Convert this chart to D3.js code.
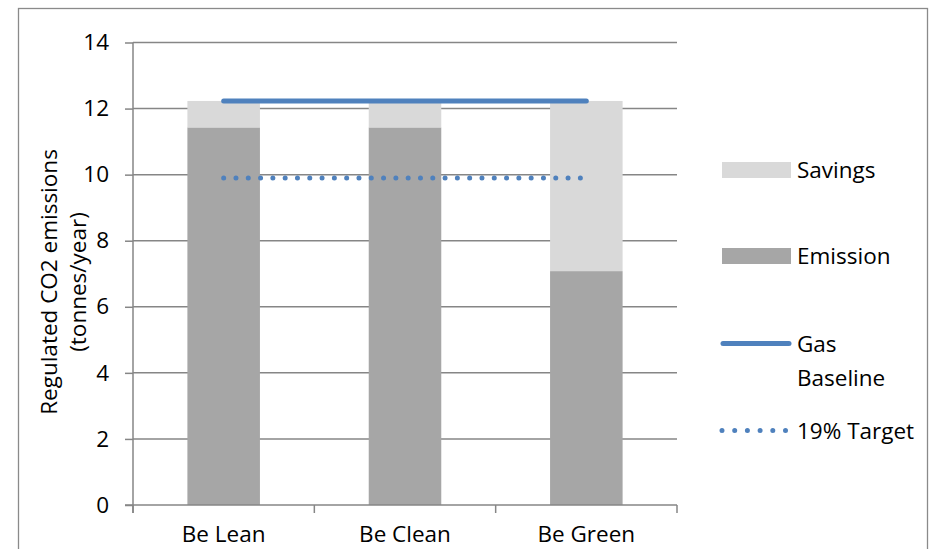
<!DOCTYPE html>
<html>
<head>
<meta charset="utf-8">
<script src="https://cdn.jsdelivr.net/npm/d3@7"></script>
<style>
  html, body { margin: 0; padding: 0; background: #fff; }
  svg { display: block; }
  text { font-family: "Open Sans", "Liberation Sans", sans-serif; fill: #000; }
</style>
</head>
<body>
<svg id="chart" width="930" height="549"></svg>
<script>
// Regulated CO2 emissions by energy hierarchy stage (tonnes/year)
const categories = ["Be Lean", "Be Clean", "Be Green"];
const emission = [11.43, 11.43, 7.08];
const savings = [0.8, 0.8, 5.15];
const gasBaseline = [12.23, 12.23, 12.23];
const target19 = [9.9, 9.9, 9.9];
const yTicks = [0, 2, 4, 6, 8, 10, 12, 14];

const legendItems = [
  { key: "savings", label: ["Savings"] },
  { key: "emission", label: ["Emission"] },
  { key: "baseline", label: ["Gas", "Baseline"] },
  { key: "target", label: ["19% Target"] }
];

const colors = {
  savings: "#d9d9d9",
  emission: "#a6a6a6",
  line: "#4f81bd",
  grid: "#868686",
  frame: "#8a8a8a"
};

const svg = d3.select("#chart");
const fontSize = 22.5;

// outer chart frame
svg.append("rect")
  .attr("x", 18.5).attr("y", 8.5)
  .attr("width", 909).attr("height", 600)
  .attr("fill", "none")
  .attr("stroke", colors.frame)
  .attr("stroke-width", 1.3);

const plot = { left: 133, right: 677, top: 42.5, bottom: 505 };

const x = d3.scaleBand()
  .domain(categories)
  .range([plot.left, plot.right])
  .paddingInner(0.6)
  .paddingOuter(0.3);

const y = d3.scaleLinear()
  .domain([0, 14])
  .range([plot.bottom, plot.top]);

// horizontal gridlines
svg.append("g")
  .selectAll("line")
  .data(yTicks.filter(d => d > 0))
  .join("line")
  .attr("x1", plot.left).attr("x2", plot.right)
  .attr("y1", d => y(d)).attr("y2", d => y(d))
  .attr("stroke", colors.grid)
  .attr("stroke-width", 1.5);

// stacked bars
const stackData = categories.map((c, i) => ({ cat: c, emission: emission[i], savings: savings[i] }));
const stacked = d3.stack().keys(["emission", "savings"])(stackData);

svg.append("g")
  .selectAll("g")
  .data(stacked)
  .join("g")
  .attr("fill", d => colors[d.key])
  .selectAll("rect")
  .data(d => d)
  .join("rect")
  .attr("x", d => x(d.data.cat))
  .attr("width", x.bandwidth())
  .attr("y", d => y(d[1]))
  .attr("height", d => y(d[0]) - y(d[1]));

// y axis
const yAxis = d3.axisLeft(y)
  .tickValues(yTicks)
  .tickSize(8)
  .tickPadding(16)
  .tickFormat(d3.format("d"));

const yG = svg.append("g")
  .attr("transform", `translate(${plot.left},0)`)
  .call(yAxis);
yG.select(".domain").attr("stroke", colors.grid).attr("stroke-width", 1.5)
  .attr("d", `M0,${plot.bottom + 8}V${plot.top}`);
yG.selectAll(".tick line").attr("stroke", colors.grid).attr("stroke-width", 1.5);
yG.selectAll(".tick text")
  .attr("font-size", fontSize)
  .style("font-family", "'Open Sans', sans-serif")
  .attr("fill", "#000");

// x axis with boundary ticks between categories
const bounds = [plot.left, plot.left + x.step(), plot.left + 2 * x.step(), plot.right];
const xG = svg.append("g");
xG.append("line")
  .attr("x1", plot.left - 8).attr("x2", plot.right)
  .attr("y1", y(0)).attr("y2", y(0))
  .attr("stroke", colors.grid).attr("stroke-width", 1.5);
xG.selectAll("line.tk")
  .data(bounds)
  .join("line")
  .attr("class", "tk")
  .attr("x1", d => d).attr("x2", d => d)
  .attr("y1", y(0)).attr("y2", y(0) + 8)
  .attr("stroke", colors.grid).attr("stroke-width", 1.5);
xG.selectAll("text")
  .data(categories)
  .join("text")
  .attr("x", d => x(d) + x.bandwidth() / 2)
  .attr("y", 542)
  .attr("text-anchor", "middle")
  .attr("font-size", fontSize)
  .text(d => d);

// gas baseline and 19% target lines
const lineGen = d3.line()
  .x((d, i) => x(categories[i]) + x.bandwidth() / 2)
  .y(d => y(d));

svg.append("path")
  .datum(gasBaseline)
  .attr("d", lineGen)
  .attr("fill", "none")
  .attr("stroke", colors.line)
  .attr("stroke-width", 5)
  .attr("stroke-linecap", "round");

svg.append("path")
  .datum(target19)
  .attr("d", lineGen)
  .attr("fill", "none")
  .attr("stroke", colors.line)
  .attr("stroke-width", 5)
  .attr("stroke-linecap", "round")
  .attr("stroke-dasharray", "0 12.3");

// y axis title
svg.append("text")
  .attr("transform", "translate(57,282) rotate(-90)")
  .attr("text-anchor", "middle")
  .attr("font-size", fontSize)
  .selectAll("tspan")
  .data(["Regulated CO2 emissions", "(tonnes/year)"])
  .join("tspan")
  .attr("x", 0)
  .attr("dy", (d, i) => i === 0 ? 0 : 29)
  .text(d => d);

// legend
const legendY = { savings: 170, emission: 256, baseline: 343.5, target: 430.5 };
const lg = svg.append("g");
legendItems.forEach(item => {
  const cy = legendY[item.key];
  if (item.key === "savings" || item.key === "emission") {
    lg.append("rect")
      .attr("x", 722).attr("y", cy - 8)
      .attr("width", 69).attr("height", 16)
      .attr("fill", colors[item.key]);
  } else if (item.key === "baseline") {
    lg.append("line")
      .attr("x1", 723).attr("x2", 789)
      .attr("y1", cy).attr("y2", cy)
      .attr("stroke", colors.line).attr("stroke-width", 5)
      .attr("stroke-linecap", "round");
  } else {
    lg.append("line")
      .attr("x1", 722).attr("x2", 786)
      .attr("y1", cy).attr("y2", cy)
      .attr("stroke", colors.line).attr("stroke-width", 5)
      .attr("stroke-linecap", "round")
      .attr("stroke-dasharray", "0 12.7");
  }
  const t = lg.append("text")
    .attr("x", 797)
    .attr("y", cy + 8)
    .attr("font-size", fontSize);
  item.label.forEach((l, i) => {
    t.append("tspan").attr("x", 797).attr("dy", i === 0 ? 0 : 34).text(l);
  });
});
</script>
</body>
</html>
